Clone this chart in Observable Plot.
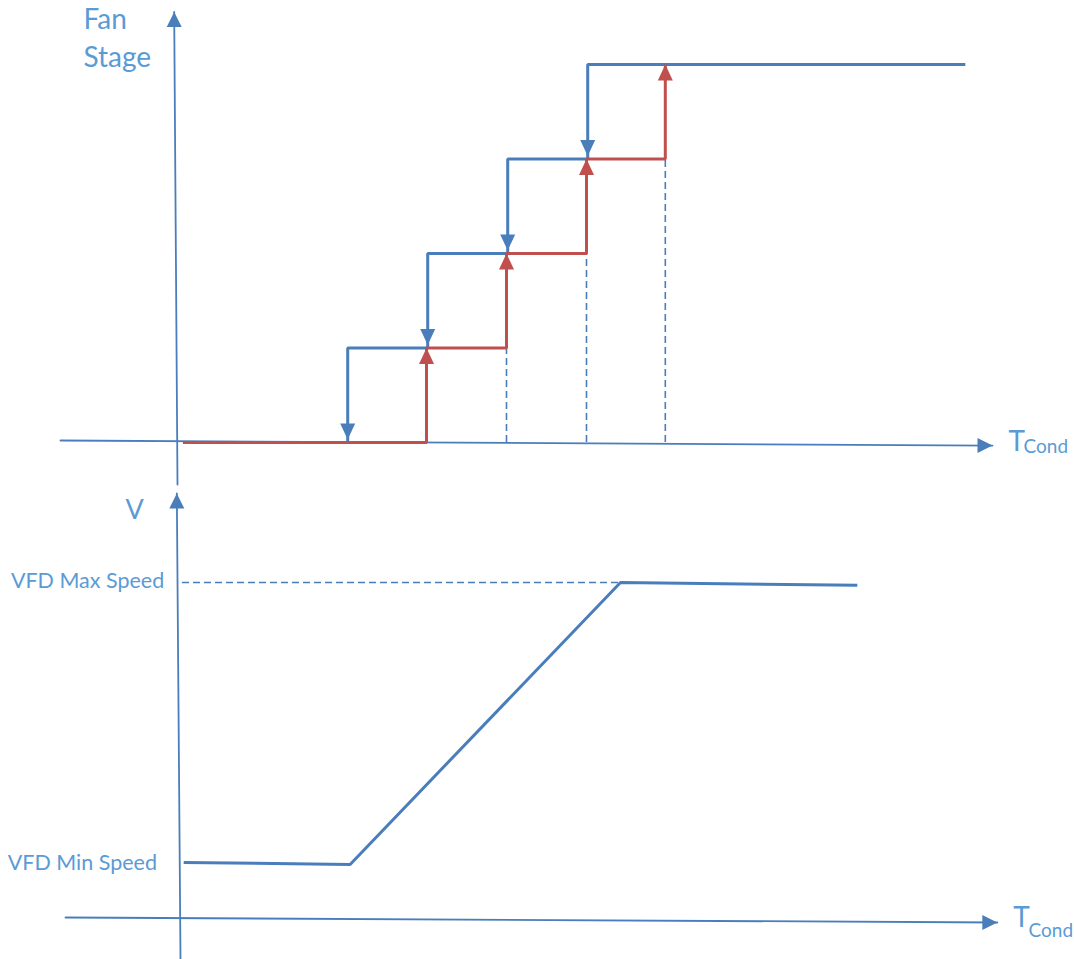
<!DOCTYPE html>
<html><head><meta charset="utf-8">
<script src="https://cdn.jsdelivr.net/npm/d3@7"></script>
<script src="https://cdn.jsdelivr.net/npm/@observablehq/plot@0.6"></script>
<style>
body{margin:0;background:#fff;}
#chart svg{display:block;overflow:visible;}
</style></head><body><div id="chart"></div>
<script>
// ---------- data ----------
const stageLevels = [1, 2, 3, 4];
const stageOnTemps = [3.125, 4.125, 5.125, 6.11];   // red: stage turns on (k-1 -> k)
const stageOffTemps = [2.14, 3.14, 4.14, 5.14];     // blue: stage turns off (k -> k-1)
const redStartTemp = 0.08;
const blueEndTemp = 9.86;

const speedTemps = [0.09, 2.17, 5.55, 8.51];
const speedValues = [10, 9.65, 60, 59.5];
const vfdMin = 10, vfdMax = 60;
const speedLabels = ["VFD Min Speed", "VFD Max Speed"];

// axis extents (abstract temperature / stage / speed units)
const topAxisX = [{T: -1.45, s: 0.021}, {T: 10.2, s: -0.032}];
const topAxisY = [{T: 0.0125, s: -0.4444}, {T: -0.029, s: 4.556}];
const botAxisX = [{T: -1.3875, v: 0.18}, {T: 10.26, v: -0.71}];
const botAxisY = [{T: 0.05, v: -7.32}, {T: 0.004, v: 75.89}];

// ---------- styles ----------
const lineBlue = "#4a7ebb";
const red = "#c0504d";
const textBlue = "#5b9bd5";
const font = "Lato, 'Open Sans', sans-serif";

const arrowHead = {draw(ctx) { const h = 16, w = 7.5; ctx.moveTo(0, 0); ctx.lineTo(w, h); ctx.lineTo(-w, h); ctx.closePath(); }};
const smallHead = {draw(ctx) { const h = 15, w = 7.5; ctx.moveTo(0, 0); ctx.lineTo(w, h); ctx.lineTo(-w, h); ctx.closePath(); }};

const xScale = {domain: [-2.2, 11.225], range: [0, 1074]};
const lineOpts = {strokeLinecap: "butt", strokeLinejoin: "miter"};

// ---------- derived geometry from data ----------
const redPath = [{T: redStartTemp, s: 0}];
stageLevels.forEach((k, i) => {
  redPath.push({T: stageOnTemps[i], s: k - 1});
  redPath.push({T: stageOnTemps[i], s: k});
});
const bluePath = [];
stageLevels.forEach((k, i) => {
  const start = k === 4 ? blueEndTemp : stageOnTemps[i];
  bluePath.push({T: start, s: k, seg: k});
  bluePath.push({T: stageOffTemps[i], s: k, seg: k});
  bluePath.push({T: stageOffTemps[i], s: k - 1, seg: k});
});
const redHeads = stageLevels.map((k, i) => ({T: stageOnTemps[i], s: k}));
const blueHeads = stageLevels.map((k, i) => ({T: stageOffTemps[i], s: k - 1}));
const dashed = stageLevels.slice(1).map((k, i) => ({T: stageOnTemps[i + 1], top: k - 1}));

const speed = speedTemps.map((t, i) => ({T: t, v: speedValues[i]}));

// ---------- top panel ----------
const topChart = Plot.plot({
  width: 1074, height: 484, margin: 0,
  x: {...xScale, axis: null},
  y: {domain: [-0.4444, 4.677], range: [484, 0], axis: null},
  style: {fontFamily: font},
  marks: [
    Plot.line(topAxisX, {x: "T", y: "s", stroke: lineBlue, strokeWidth: 1.8}),
    Plot.line(topAxisY, {x: "T", y: "s", stroke: lineBlue, strokeWidth: 1.8}),
    Plot.dot([topAxisX[1]], {x: "T", y: "s", symbol: smallHead, rotate: 90, fill: lineBlue, stroke: "none"}),
    Plot.dot([topAxisY[1]], {x: "T", y: "s", symbol: smallHead, rotate: 0, fill: lineBlue, stroke: "none"}),
    Plot.ruleX(dashed, {x: "T", y1: 0, y2: "top", stroke: lineBlue, strokeWidth: 1.6, strokeDasharray: "7,4"}),
    Plot.line(bluePath, {x: "T", y: "s", z: "seg", stroke: lineBlue, strokeWidth: 3, ...lineOpts}),
    Plot.line(redPath, {x: "T", y: "s", stroke: red, strokeWidth: 3, ...lineOpts}),
    Plot.dot(blueHeads, {x: "T", y: "s", dy: -3, symbol: arrowHead, rotate: 180, fill: lineBlue, stroke: "none"}),
    Plot.dot(redHeads, {x: "T", y: "s", symbol: arrowHead, rotate: 0, fill: red, stroke: "none"}),
    Plot.text(["Fan\nStage"], {x: -1.1625, y: 4.3, text: d => d, textAnchor: "start", lineAnchor: "middle", lineHeight: 1.357, fontSize: 28, fill: textBlue}),
    Plot.text(["T"], {x: 10.4, y: 0, text: d => d, textAnchor: "start", lineAnchor: "middle", fontSize: 28, fill: textBlue}),
    Plot.text(["Cond"], {x: 10.5875, y: -0.042, text: d => d, textAnchor: "start", lineAnchor: "middle", fontSize: 19, fill: textBlue})
  ]
});

// ---------- bottom panel ----------
const bottomChart = Plot.plot({
  width: 1074, height: 475, margin: 0,
  x: {...xScale, axis: null},
  y: {domain: [-7.32, 77.5], range: [475, 0], axis: null},
  style: {fontFamily: font},
  marks: [
    Plot.line(botAxisX, {x: "T", y: "v", stroke: lineBlue, strokeWidth: 1.8}),
    Plot.line(botAxisY, {x: "T", y: "v", stroke: lineBlue, strokeWidth: 1.8}),
    Plot.dot([botAxisX[1]], {x: "T", y: "v", symbol: smallHead, rotate: 90, fill: lineBlue, stroke: "none"}),
    Plot.dot([botAxisY[1]], {x: "T", y: "v", symbol: smallHead, rotate: 0, fill: lineBlue, stroke: "none"}),
    Plot.ruleY([vfdMax], {y: d => d, x1: 0.075, x2: speedTemps[2], stroke: lineBlue, strokeWidth: 1.4, strokeDasharray: "7,4"}),
    Plot.line(speed, {x: "T", y: "v", stroke: lineBlue, strokeWidth: 3, ...lineOpts}),
    Plot.text(["V"], {x: -0.6375, y: 72.86, text: d => d, textAnchor: "start", lineAnchor: "middle", fontSize: 27, fill: textBlue}),
    Plot.text([speedLabels[1]], {x: -2.07, y: vfdMax, dy: -1, text: d => d, textAnchor: "start", lineAnchor: "middle", fontSize: 21.5, fill: textBlue}),
    Plot.text([speedLabels[0]], {x: -2.11, y: vfdMin, dy: 1, text: d => d, textAnchor: "start", lineAnchor: "middle", fontSize: 21.5, fill: textBlue}),
    Plot.text(["T"], {x: 10.46, y: 0, text: d => d, textAnchor: "start", lineAnchor: "middle", fontSize: 28, fill: textBlue}),
    Plot.text(["Cond"], {x: 10.65, y: -2.14, text: d => d, textAnchor: "start", lineAnchor: "middle", fontSize: 19, fill: textBlue})
  ]
});

const root = document.getElementById("chart");
root.appendChild(topChart);
root.appendChild(bottomChart);
</script>
</body></html>
